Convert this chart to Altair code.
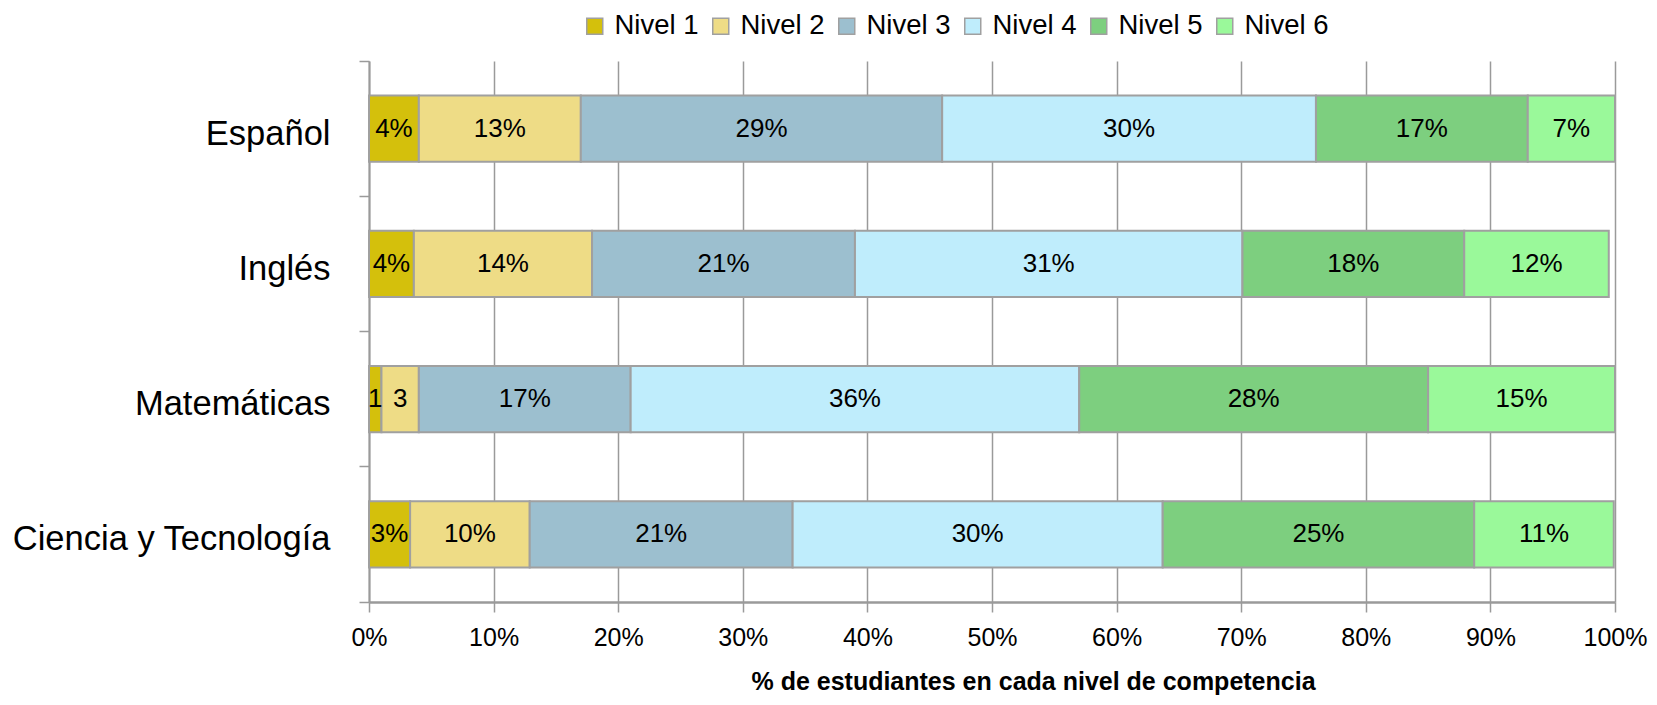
import altair as alt
import pandas as pd

categorias = ["Español", "Inglés", "Matemáticas", "Ciencia y Tecnología"]
niveles = ["Nivel 1", "Nivel 2", "Nivel 3", "Nivel 4", "Nivel 5", "Nivel 6"]
colores = ["#D4C00C", "#EEDC86", "#9CBFCF", "#BFEDFC", "#7DCF7F", "#9AF99A"]

espanol = [4.0, 13.0, 29.0, 30.0, 17.0, 7.0]
ingles = [3.6, 14.3, 21.1, 31.1, 17.8, 11.6]
matematicas = [1.0, 3.0, 17.0, 36.0, 28.0, 15.0]
ciencia = [3.3, 9.6, 21.1, 29.7, 25.0, 11.2]

etq_espanol = ["4%", "13%", "29%", "30%", "17%", "7%"]
etq_ingles = ["4%", "14%", "21%", "31%", "18%", "12%"]
etq_matematicas = ["1", "3", "17%", "36%", "28%", "15%"]
etq_ciencia = ["3%", "10%", "21%", "30%", "25%", "11%"]

series = [espanol, ingles, matematicas, ciencia]
etiquetas = [etq_espanol, etq_ingles, etq_matematicas, etq_ciencia]

rows = []
for cat, vals, labs in zip(categorias, series, etiquetas):
    for i, (niv, v, l) in enumerate(zip(niveles, vals, labs)):
        rows.append({"cat": cat, "nivel": niv, "orden": i, "valor": v, "etq": l})
df = pd.DataFrame(rows)

FONT = "Liberation Sans"
GRAY = "#9A9A9A"

base = alt.Chart(df).transform_stack(
    stack="valor", groupby=["cat"], as_=["x0", "x1"],
    sort=[alt.SortField("orden", order="ascending")]
).transform_calculate(mid="(datum.x0 + datum.x1) / 2")

y_enc = alt.Y(
    "cat:N", sort=categorias, title=None,
    scale=alt.Scale(paddingInner=0, paddingOuter=0),
    axis=alt.Axis(
        bandPosition=1, tickExtra=True, labelOffset=6, labelLimit=0,
        labelFontSize=34.5, labelFont=FONT, labelColor="#000000",
        labelPadding=29, tickSize=10, tickColor=GRAY, tickWidth=1.5,
        domainColor=GRAY, domainWidth=2, grid=False,
    ),
)

x_scale = alt.Scale(domain=[0, 100], nice=False)

bars = base.mark_bar(height={"band": 0.49}, stroke="#A0A0A0", strokeWidth=2).encode(
    x=alt.X(
        "x0:Q", scale=x_scale,
        title="% de estudiantes en cada nivel de competencia",
        axis=alt.Axis(
            values=list(range(0, 101, 10)), labelExpr="datum.value + '%'",
            labelFlush=False,
            labelFontSize=25, labelFont=FONT, labelColor="#000000", labelPadding=13,
            tickSize=10, tickColor=GRAY, tickWidth=1.5,
            grid=True, gridColor=GRAY, gridWidth=1.5,
            domainColor=GRAY, domainWidth=2.5,
            titleFontSize=25, titleFont=FONT, titleFontWeight="bold",
            titleColor="#000000", titlePadding=19, titleX=664,
        ),
    ),
    x2="x1:Q",
    y=y_enc,
    color=alt.Color(
        "nivel:N", scale=alt.Scale(domain=niveles, range=colores), title=None,
        legend=alt.Legend(
            orient="none", direction="horizontal", legendX=212, legendY=-49,
            symbolType="square", symbolSize=256, symbolStrokeColor="#A0A0A0",
            symbolStrokeWidth=1.5, symbolOpacity=1,
            labelFontSize=27.5, labelFont=FONT, labelColor="#000000",
            labelOffset=6, columnPadding=8,
        ),
    ),
)

texts = base.mark_text(fontSize=26, font=FONT, color="#000000", baseline="middle").encode(
    x=alt.X("mid:Q", scale=x_scale),
    y=alt.Y("cat:N", sort=categorias),
    text="etq:N",
)

chart = alt.layer(bars, texts).properties(
    width=1246, height=541,
    autosize=alt.AutoSizeParams(type="none"),
    padding={"left": 361, "top": 53, "right": 34, "bottom": 95},
).configure_view(stroke=None)

chart.save("out.html", embed_options={"renderer": "svg", "actions": False})
